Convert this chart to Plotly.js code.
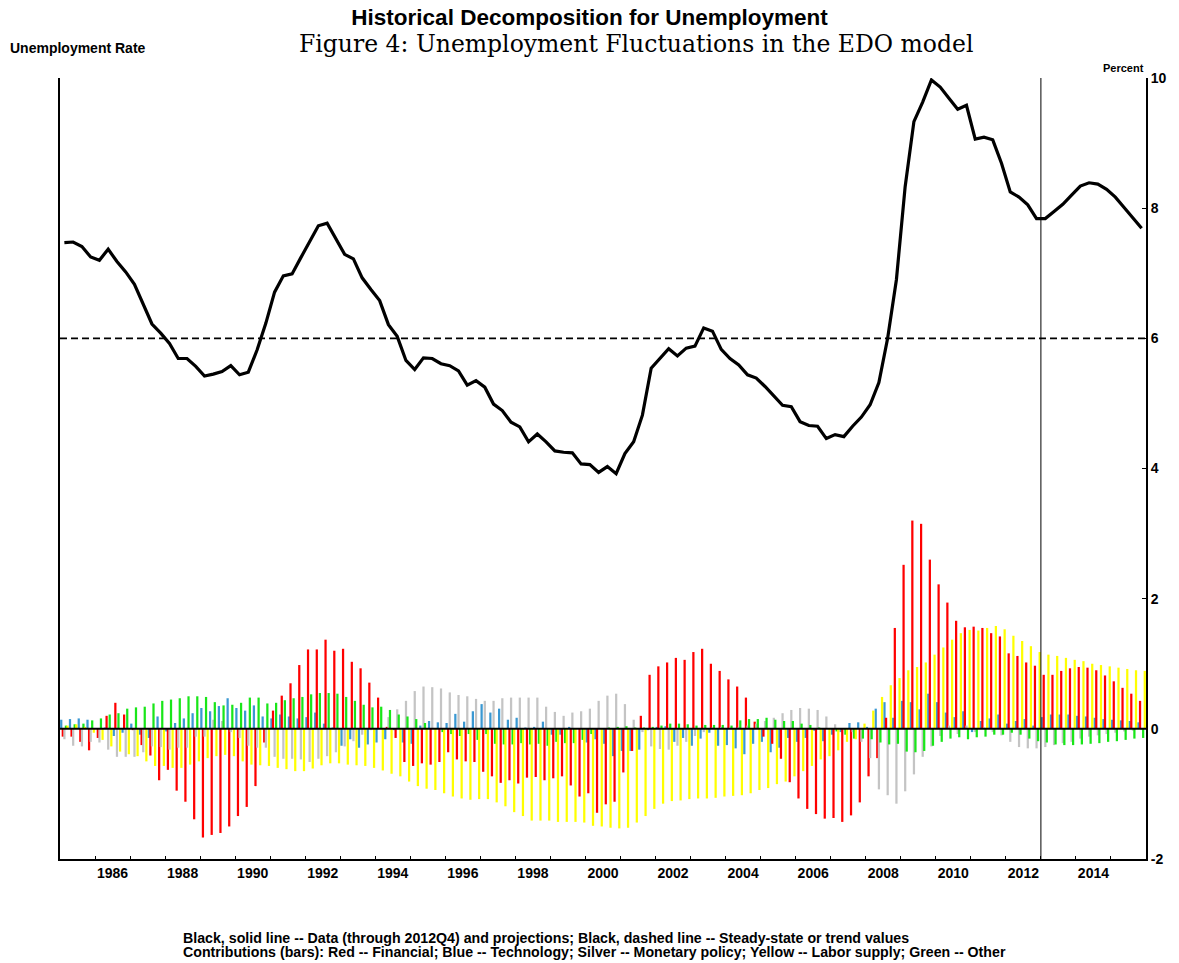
<!DOCTYPE html>
<html>
<head>
<meta charset="utf-8">
<script src="https://cdn.plot.ly/plotly-3.0.1.min.js"></script>
<style>html,body{margin:0;padding:0;background:#fff;}#chart{width:1179px;height:963px;}</style>
</head>
<body>
<div id="chart"></div>
<script>
// Quarterly data, 1985Q1 .. 2015Q4
const firstYear = 1985;
const nQuarters = 124;
const quarters = [];
for (let i = 0; i < nQuarters; i++) quarters.push((firstYear + Math.floor(i / 4)) + 'Q' + (i % 4 + 1));

const unemployment = [
  7.47,7.48,7.41,7.25, 7.20,7.37,7.18,7.02, 6.83,6.51,6.22,6.08, 5.92,5.69,5.69,5.57,
  5.42,5.45,5.49,5.58, 5.44,5.48,5.82,6.23, 6.71,6.96,6.99,7.24, 7.49,7.73,7.77,7.54,
  7.29,7.22,6.93,6.75, 6.58,6.21,6.03,5.66, 5.52,5.70,5.69,5.61, 5.58,5.50,5.28,5.35,
  5.25,4.99,4.89,4.71, 4.64,4.41,4.53,4.41, 4.27,4.25,4.24,4.07, 4.06,3.94,4.03,3.92,
  4.23,4.41,4.82,5.54, 5.69,5.84,5.73,5.85, 5.88,6.16,6.11,5.83, 5.69,5.59,5.44,5.39,
  5.26,5.11,4.97,4.95, 4.72,4.66,4.65,4.46, 4.52,4.49,4.65,4.79, 4.98,5.32,6.00,6.90,
  8.33,9.33,9.63,9.97, 9.86,9.69,9.52,9.58, 9.06,9.09,9.05,8.69, 8.25,8.17,8.05,7.84,
  7.84,7.95,8.06,8.20, 8.34,8.39,8.37,8.29, 8.17,8.01,7.85,7.69
];
const steadyState = 6;
const lastDataQuarter = '2012Q4';

const financial = [
  -0.12,-0.12,-0.20,-0.33, -0.14,0.20,0.40,0.22, -0.02,-0.25,-0.41,-0.79, -0.63,-0.95,-1.12,-1.39,
  -1.67,-1.63,-1.60,-1.50, -1.34,-1.20,-0.88,-0.21, 0.28,0.51,0.70,0.98, 1.22,1.22,1.37,1.20,
  1.23,1.03,0.93,0.71, 0.48,0.03,-0.14,-0.51, -0.57,-0.53,-0.55,-0.51, -0.36,-0.47,-0.50,-0.51,
  -0.66,-0.73,-0.83,-0.79, -0.84,-0.75,-0.74,-0.79, -0.76,-0.73,-0.87,-1.04, -0.99,-1.29,-1.16,-1.12,
  -0.67,-0.34,0.20,0.83, 0.96,1.02,1.09,1.06, 1.18,1.23,1.00,0.89, 0.76,0.65,0.48,0.11,
  -0.12,-0.23,-0.46,-0.82, -1.07,-1.23,-1.31,-1.38, -1.37,-1.43,-1.33,-1.13, -0.73,-0.45,0.17,1.55,
  2.52,3.20,3.15,2.60, 2.22,1.94,1.66,1.56, 1.57,1.55,1.47,1.42, 1.16,1.12,1.02,0.97,
  0.83,0.83,0.89,0.93, 0.95,0.94,0.90,0.82, 0.73,0.63,0.54,0.43
];
const technology = [
  0.14,0.15,0.16,0.14, 0.00,0.02,-0.11,-0.06, 0.08,-0.09,-0.14,0.19, -0.04,0.09,0.16,0.24,
  0.32,0.27,0.35,0.47, 0.32,0.28,0.36,0.19, 0.16,0.22,0.19,0.16, 0.18,0.25,0.08,0.02,
  -0.26,-0.16,-0.29,-0.24, -0.21,-0.16,-0.02,-0.21, -0.23,0.05,0.12,0.10, 0.09,0.23,0.11,0.27,
  0.38,0.25,0.31,0.14, 0.17,0.02,0.03,0.11, -0.09,-0.09,0.03,0.01, -0.21,-0.16,-0.23,-0.42,
  -0.34,-0.34,-0.32,-0.02, 0.03,0.04,-0.20,-0.14, -0.26,-0.15,-0.06,-0.26, -0.25,-0.30,-0.39,-0.23,
  -0.20,-0.36,-0.29,-0.14, -0.20,-0.14,-0.03,-0.19, -0.09,-0.05,0.09,0.10, 0.03,0.31,0.41,0.17,
  0.43,0.41,0.30,0.54, 0.41,0.25,0.18,0.27, -0.05,0.12,0.16,0.22, 0.08,0.12,0.15,0.05,
  0.18,0.22,0.22,0.22, 0.20,0.19,0.17,0.15, 0.14,0.13,0.12,0.10
];
const monetary = [
  -0.16,-0.26,-0.27,-0.20, -0.21,-0.32,-0.43,-0.43, -0.43,-0.36,-0.27,-0.28, -0.32,-0.29,-0.29,-0.12,
  -0.12,0.14,0.12,-0.05, -0.14,-0.26,-0.29,-0.29, -0.43,-0.46,-0.46,-0.47, -0.51,-0.46,-0.42,-0.36,
  -0.27,-0.19,-0.09,-0.02, 0.00,0.18,0.30,0.43, 0.58,0.65,0.64,0.62, 0.56,0.52,0.50,0.46,
  0.43,0.43,0.47,0.48, 0.48,0.48,0.48,0.34, 0.26,0.20,0.25,0.27, 0.31,0.43,0.51,0.54,
  0.38,0.14,-0.05,-0.27, -0.31,-0.32,-0.26,-0.20, -0.11,-0.05,0.02,0.03, 0.02,0.03,0.05,0.08,
  0.12,0.17,0.24,0.29, 0.32,0.31,0.29,0.19, 0.07,-0.02,-0.05,-0.20, -0.45,-0.93,-1.02,-1.15,
  -0.96,-0.70,-0.43,-0.27, -0.11,0.05,-0.08,0.05, -0.05,0.02,-0.05,-0.10, -0.20,-0.28,-0.30,-0.30,
  -0.28,-0.25,-0.22,-0.20, -0.15,-0.12,-0.10,-0.08, -0.06,-0.04,-0.03,-0.02
];
const other = [
  0.05,0.07,0.08,0.13, 0.16,0.22,0.24,0.31, 0.33,0.34,0.39,0.43, 0.45,0.47,0.50,0.50,
  0.49,0.41,0.36,0.37, 0.40,0.48,0.48,0.39, 0.40,0.44,0.47,0.49, 0.53,0.55,0.55,0.54,
  0.49,0.43,0.37,0.33, 0.34,0.29,0.22,0.19, 0.15,0.09,0.00,-0.05, -0.08,-0.11,-0.08,-0.17,
  -0.08,-0.23,-0.24,-0.24, -0.22,-0.24,-0.23,-0.26, -0.20,-0.22,-0.22,-0.17, -0.08,0.00,0.02,0.03,
  0.04,0.02,0.02,0.03, 0.05,0.08,0.08,0.07, 0.05,0.06,0.06,0.06, 0.05,0.13,0.15,0.15,
  0.17,0.14,0.12,0.12, 0.08,0.06,0.02,0.01, -0.04,-0.09,-0.15,-0.15, -0.16,-0.21,-0.24,-0.23,
  -0.35,-0.36,-0.34,-0.26, -0.20,-0.15,-0.13,-0.16, -0.13,-0.12,-0.09,-0.09, -0.06,-0.09,-0.15,-0.19,
  -0.21,-0.24,-0.25,-0.25, -0.24,-0.23,-0.22,-0.20, -0.19,-0.17,-0.15,-0.14
];
const laborSupply = [
  0.05,0.07,0.03,-0.06, -0.17,-0.27,-0.35,-0.39, -0.42,-0.50,-0.57,-0.57, -0.60,-0.60,-0.55,-0.50,
  -0.45,-0.42,-0.40,-0.42, -0.50,-0.55,-0.56,-0.57, -0.60,-0.62,-0.65,-0.65, -0.61,-0.56,-0.53,-0.53,
  -0.55,-0.56,-0.57,-0.60, -0.64,-0.69,-0.73,-0.81, -0.88,-0.92,-0.94,-0.99, -1.04,-1.07,-1.09,-1.08,
  -1.08,-1.13,-1.19,-1.28, -1.34,-1.41,-1.41,-1.41, -1.43,-1.43,-1.43,-1.44, -1.49,-1.50,-1.52,-1.53,
  -1.52,-1.44,-1.34,-1.23, -1.15,-1.11,-1.10,-1.08, -1.07,-1.07,-1.06,-1.04, -1.03,-1.02,-0.99,-0.94,
  -0.91,-0.85,-0.81,-0.73, -0.65,-0.57,-0.47,-0.42, -0.33,-0.20,-0.16,0.08, 0.28,0.49,0.67,0.78,
  0.90,0.95,1.02,1.14, 1.25,1.37,1.47,1.52, 1.51,1.55,1.58,1.53, 1.43,1.35,1.27,1.18,
  1.14,1.12,1.09,1.06, 1.04,1.00,0.98,0.96, 0.94,0.92,0.90,0.89
];

const xAxisYears = [1986,1988,1990,1992,1994,1996,1998,2000,2002,2004,2006,2008,2010,2012,2014];
const yTicks = [-2,0,2,4,6,8,10];

// numeric time position of a quarter label (start of quarter)
function qStart(label){ const y = +label.slice(0,4), q = +label.slice(5); return y + (q-1)/4; }
const xStart = quarters.map(qStart);
const xMid = xStart.map(v => v + 0.125);

const barW = 0.064;
const series = [
  {name:'Technology', y: technology, color:'#3a98d2', off:0.003},
  {name:'Financial', y: financial, color:'#ff0000', off:0.048},
  {name:'Monetary policy', y: monetary, color:'#c4c4c4', off:0.094},
  {name:'Other', y: other, color:'#19e619', off:0.137},
  {name:'Labor supply', y: laborSupply, color:'#ffff00', off:0.183}
];

const traces = series.map(s => ({
  type:'bar', x: xStart, y: s.y, name: s.name,
  width: barW, offset: s.off,
  marker:{color: s.color, line:{width:0}},
  showlegend:false, hoverinfo:'skip'
}));
traces.push({
  type:'scatter', mode:'lines', x: xMid, y: unemployment,
  line:{color:'#000', width:3.2}, showlegend:false, hoverinfo:'skip'
});

const sansBold = 'Liberation Sans, Arial, sans-serif';
const layout = {
  width:1179, height:963,
  margin:{l:60, r:33, t:78, b:104},
  paper_bgcolor:'#fff', plot_bgcolor:'#fff',
  barmode:'overlay',
  showlegend:false,
  title:{text:'<b>Historical Decomposition for Unemployment</b>', x:0.5, xref:'container', xanchor:'center',
         y:1-17/963, yref:'container', yanchor:'middle', font:{family:sansBold, size:22.5, color:'#000'}},
  xaxis:{
    range:[firstYear, firstYear + nQuarters/4], showgrid:false, zeroline:false,
    showline:true, linecolor:'#000', linewidth:2,
    tickmode:'array', tickvals: xAxisYears.map(y => y + 0.5), ticktext: xAxisYears.map(String),
    ticks:'', tickfont:{family:sansBold, size:14, color:'#000', weight:'bold'},
    minor:{tickmode:'array', tickvals: Array.from({length:30}, (_, k) => 1986 + k), ticks:'inside', ticklen:3, tickcolor:'#000', tickwidth:1, showgrid:false}
  },
  yaxis:{
    range:[-2,10], side:'right', showgrid:false, zeroline:false,
    showline:true, mirror:true, linecolor:'#000', linewidth:2,
    tickmode:'array', tickvals: yTicks, ticktext: yTicks.map(String),
    ticks:'inside', ticklen:4, tickcolor:'#000', tickwidth:1,
    tickfont:{family:sansBold, size:14, color:'#000', weight:'bold'}
  },
  shapes:[
    {type:'line', xref:'paper', x0:0, x1:1, yref:'y', y0:steadyState, y1:steadyState, line:{color:'#000', width:1.6, dash:'7px,4px'}},
    {type:'line', xref:'paper', x0:0, x1:1, yref:'y', y0:0, y1:0, layer:'above', line:{color:'#000', width:2}},
    {type:'line', xref:'x', x0:qStart(lastDataQuarter)+0.25, x1:qStart(lastDataQuarter)+0.25, yref:'paper', y0:0, y1:1, line:{color:'#000', width:1}}
  ],
  annotations:[
    {text:'Figure 4: Unemployment Fluctuations in the EDO model', xref:'paper', yref:'paper', x:0.531, y:1.0432,
     xanchor:'center', yanchor:'middle', showarrow:false, font:{family:'DejaVu Serif, serif', size:23.5, color:'#000'}},
    {text:'<b>Unemployment Rate</b>', xref:'paper', yref:'paper', x:-0.048, y:1.038, xanchor:'left', yanchor:'middle',
     showarrow:false, font:{family:sansBold, size:14, color:'#000'}},
    {text:'<b>Percent</b>', xref:'paper', yref:'paper', x:1.0, y:1.0125, xanchor:'right', yanchor:'middle',
     showarrow:false, font:{family:sansBold, size:11, color:'#000'}},
    {text:'<b>Black, solid line -- Data (through 2012Q4) and projections; Black, dashed line -- Steady-state or trend values</b>',
     xref:'paper', yref:'paper', x:0.1114, y:-0.1007, xanchor:'left', yanchor:'middle', showarrow:false,
     font:{family:sansBold, size:14.2, color:'#000'}},
    {text:'<b>Contributions (bars): Red -- Financial; Blue -- Technology; Silver -- Monetary policy; Yellow -- Labor supply; Green -- Other</b>',
     xref:'paper', yref:'paper', x:0.1114, y:-0.1186, xanchor:'left', yanchor:'middle', showarrow:false,
     font:{family:sansBold, size:14.2, color:'#000'}}
  ]
};

Plotly.newPlot('chart', traces, layout, {displayModeBar:false, staticPlot:true});
</script>
</body>
</html>
